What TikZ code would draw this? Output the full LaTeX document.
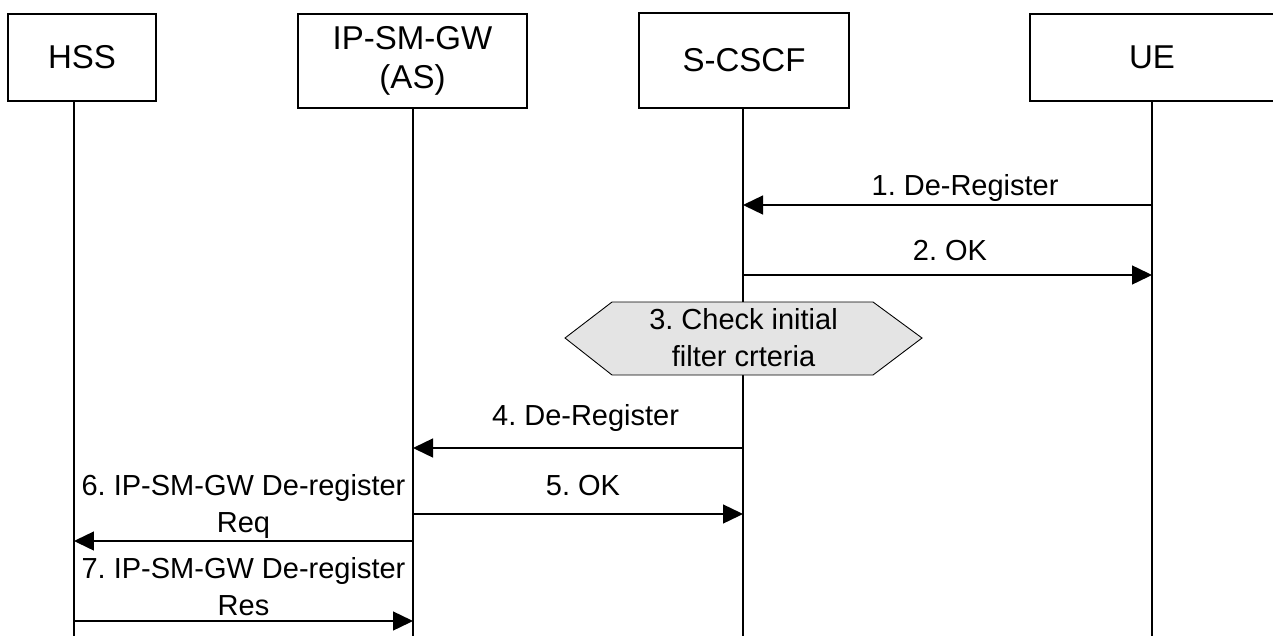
\documentclass[tikz,border=0pt]{standalone}
\usepackage{fontspec}
\setmainfont{Liberation Sans}
\usetikzlibrary{arrows.meta}
\definecolor{hexgray}{RGB}{228,228,228}
\frenchspacing

\begin{document}
\begin{tikzpicture}[x=0.02cm,y=-0.02cm,
		every node/.style={font=\fontsize{16.5}{21}\selectfont},
		entity/.style={draw,line width=0.8pt,inner sep=0pt,align=center,font=\fontsize{18.8}{22.5}\selectfont},
		msg/.style={line width=0.8pt,-{Triangle[length=0.4cm,width=0.38cm]}},
		lbl/.style={inner sep=0pt,anchor=base},
		lbltwo/.style={inner sep=0pt,anchor=south,align=center}]
		\useasboundingbox (0,0) rectangle (1273,635);

		\node[entity,minimum width=2.96cm,minimum height=1.74cm] (hss) at (82,57.5) {HSS};
		\node[entity,minimum width=4.58cm,minimum height=1.88cm] (ipsmgw) at (412.5,61) {IP-SM-GW\\(AS)};
		\node[entity,minimum width=4.2cm,minimum height=1.9cm] (scscf) at (744,60.5) {S-CSCF};
		\node[entity,minimum width=4.88cm,minimum height=1.74cm] (ue) at (1152,57.5) {UE};

		\coordinate (hssL) at (74,101);
		\coordinate (ipL) at (413,108);
		\coordinate (scL) at (743,108);
		\coordinate (ueL) at (1152,101);
		\coordinate (bottom) at (0,640);

		\draw[line width=0.8pt]
			(hssL) -- (hssL |- bottom)
			(ipL) -- (ipL |- bottom)
			(scL) -- (scL |- bottom)
			(ueL) -- (ueL |- bottom);

		\draw[msg] (ueL |- 0,205) -- node[lbl,pos=0.457,yshift=0.2cm] {1. De-Register} (scL |- 0,205);
		\draw[msg] (scL |- 0,275) -- node[lbl,pos=0.506,yshift=0.3cm] {2. OK} (ueL |- 0,275);

		\draw[fill=hexgray,line width=0.5pt]
			(565,338) -- (612,302) -- (873,302) -- (922,338) -- (873,375) -- (612,375) -- cycle;
		\node[align=center,inner sep=0pt] (check) at (743.5,338) {3. Check initial\\filter crteria};

		\draw[msg] (scL |- 0,448) -- node[lbl,pos=0.477,yshift=0.46cm] {4. De-Register} (ipL |- 0,448);
		\draw[msg] (ipL |- 0,514) -- node[lbl,pos=0.515,yshift=0.38cm] {5. OK} (scL |- 0,514);
		\draw[msg] (ipL |- 0,541) -- node[lbltwo,pos=0.5,yshift=0.04cm] {6. IP-SM-GW De-register\\Req} (hssL |- 0,541);
		\draw[msg] (hssL |- 0,621) -- node[lbltwo,pos=0.5,yshift=0.1cm] {7. IP-SM-GW De-register\\Res} (ipL |- 0,621);

\end{tikzpicture}
\end{document}
